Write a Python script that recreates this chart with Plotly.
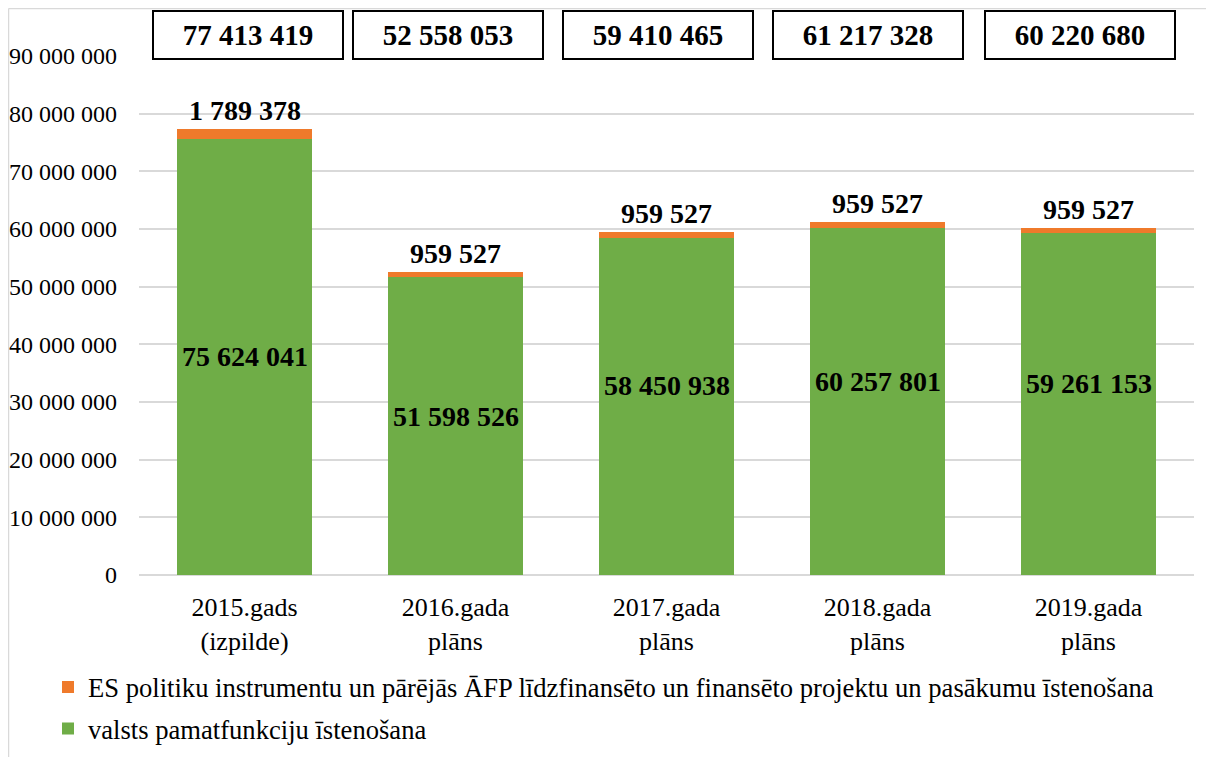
import plotly.graph_objects as go

categories = ["2015.gads<br>(izpilde)", "2016.gada<br>plāns", "2017.gada<br>plāns", "2018.gada<br>plāns", "2019.gada<br>plāns"]
valsts = [75624041, 51598526, 58450938, 60257801, 59261153]
es_proj = [1789378, 959527, 959527, 959527, 959527]
totals = [77413419, 52558053, 59410465, 61217328, 60220680]
series_names = ["valsts pamatfunkciju īstenošana",
                "ES politiku instrumentu un pārējās ĀFP līdzfinansēto un finansēto projektu un pasākumu īstenošana"]

GREEN = "#6fad47"
ORANGE = "#ef7a2b"
FONT = '"Liberation Serif", "Times New Roman", Times, serif'

def fmt(v):
    return f"{v:,}".replace(",", " ")

W, H = 1214, 757
ML, MR, MT, MB = 131, 28, 48, 190
pw = W - ML - MR
ph = H - MT - MB

fig = go.Figure()
fig.add_trace(go.Bar(x=categories, y=valsts, name=series_names[0], marker_color=GREEN,
                     width=0.64, marker_line_width=0, legendgroup="g", legendrank=2))
fig.add_trace(go.Bar(x=categories, y=es_proj, name=series_names[1], marker_color=ORANGE,
                     width=0.64, marker_line_width=0, legendgroup="o", legendrank=1))

label_shift = [0, -10, -21, -20, -21]
box_xshift = [3, -8, -8.5, -10, -9]
box_y = 1 + (MT - 27.5) / ph
annotations = []
for i, c in enumerate(categories):
    annotations.append(dict(x=c, y=valsts[i] / 2, text=f"<b>{fmt(valsts[i])}</b>", showarrow=False,
                            yshift=-label_shift[i], font=dict(family=FONT, size=28, color="black")))
    annotations.append(dict(x=c, y=totals[i], text=f"<b>{fmt(es_proj[i])}</b>", showarrow=False,
                            yanchor="bottom", yshift=1, font=dict(family=FONT, size=28, color="black")))
    annotations.append(dict(x=c, y=box_y, yref="paper", xshift=box_xshift[i],
                            text=f"<b>{fmt(totals[i])}</b>", showarrow=False,
                            yanchor="middle", width=186, height=44, bordercolor="black", borderwidth=2,
                            bgcolor="white", font=dict(family=FONT, size=29, color="black")))

x0 = (0.5 - ML) / pw
y_top = 1 + (MT - 0.5) / ph
y_bot = -(H - MT) / ph - 0.1
shapes = [
    dict(type="line", xref="paper", yref="paper", x0=x0, x1=(W + 10 - ML) / pw, y0=y_top, y1=y_top,
         line=dict(color="#d9d9d9", width=1.5)),
    dict(type="line", xref="paper", yref="paper", x0=x0, x1=x0, y0=y_top, y1=y_bot,
         line=dict(color="#d9d9d9", width=1.5)),
]

fig.update_layout(
    barmode="stack",
    width=W, height=H,
    margin=dict(l=ML, r=MR, t=MT, b=MB, autoexpand=False),
    paper_bgcolor="white", plot_bgcolor="white",
    separators=", ",
    font=dict(family=FONT, size=24, color="black"),
    annotations=annotations,
    shapes=shapes,
    showlegend=True,
    legend=dict(orientation="v", traceorder="grouped", tracegroupgap=4,
                x=(40 - ML) / pw, xanchor="left",
                y=-0.17, yanchor="top", font=dict(family=FONT, size=26.6, color="black"), itemwidth=30),
    yaxis=dict(range=[0, 90e6], dtick=10e6, tickformat=",d", showgrid=True, gridcolor="#d9d9d9",
               gridwidth=1.5, zeroline=True, zerolinecolor="#d9d9d9", zerolinewidth=1.5, automargin=False,
               ticks="", ticklabelstandoff=21, tickfont=dict(family=FONT, size=24, color="black")),
    xaxis=dict(showline=False, ticks="", ticklabelstandoff=14, automargin=False,
               tickfont=dict(family=FONT, size=26, color="black"), range=[-0.5, 4.5]),
)

fig.write_html("out.html")
